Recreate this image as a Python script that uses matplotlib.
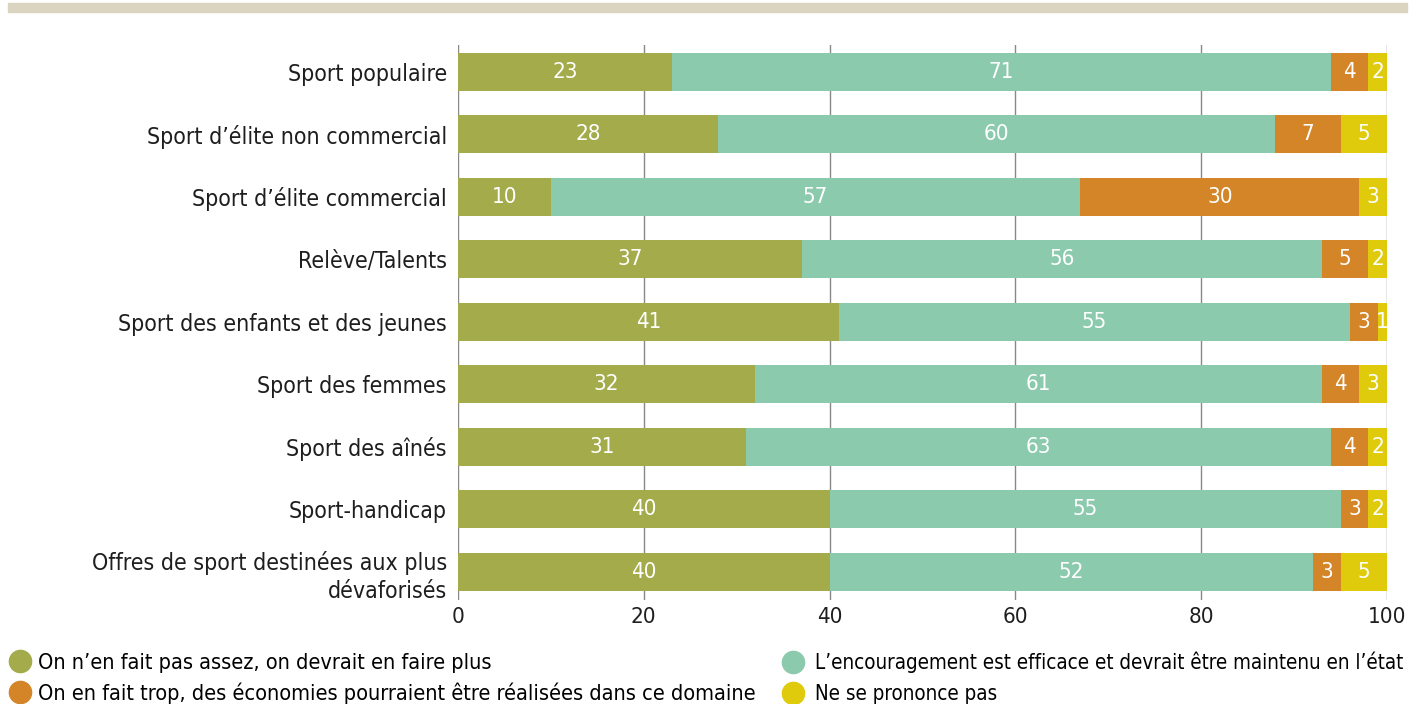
import numpy as np
import matplotlib.pyplot as plt
from matplotlib.lines import Line2D
from matplotlib.patches import Rectangle

plt.rcParams['font.family'] = ['DejaVu Sans']
plt.rcParams['font.stretch'] = 'condensed'

categories = [
    "Sport populaire",
    "Sport d\u2019élite non commercial",
    "Sport d\u2019élite commercial",
    "Relève/Talents",
    "Sport des enfants et des jeunes",
    "Sport des femmes",
    "Sport des aînés",
    "Sport-handicap",
    "Offres de sport destinées aux plus\ndévaforisés",
]
pas_assez = [23, 28, 10, 37, 41, 32, 31, 40, 40]
efficace = [71, 60, 57, 56, 55, 61, 63, 55, 52]
trop = [4, 7, 30, 5, 3, 4, 4, 3, 3]
ne_sait_pas = [2, 5, 3, 2, 1, 3, 2, 2, 5]

series_labels = [
    "On n\u2019en fait pas assez, on devrait en faire plus",
    "L\u2019encouragement est efficace et devrait être maintenu en l\u2019état",
    "On en fait trop, des économies pourraient être réalisées dans ce domaine",
    "Ne se prononce pas",
]
colors = ["#a3ab4a", "#8ccaae", "#d38527", "#dfcb0c"]

fig = plt.figure(figsize=(14.24, 7.04), dpi=100)
ax = fig.add_axes([0.3216, 0.1477, 0.6524, 0.7883])

# bandeau beige en haut
fig.patches.append(Rectangle((8 / 1424, 1 - 12 / 704), 1399 / 1424, 9 / 704,
                             transform=fig.transFigure, color="#dbd4c1", zorder=0))

y = np.arange(len(categories))
left = np.zeros(len(categories))
for vals, col in zip([pas_assez, efficace, trop, ne_sait_pas], colors):
    vals = np.array(vals, dtype=float)
    ax.barh(y, vals, left=left, height=0.61, color=col, zorder=3)
    for yi, l, v in zip(y, left, vals):
        ax.text(l + v / 2, yi, f"{int(v)}", ha="center", va="center",
                color="white", fontsize=16, zorder=4)
    left += vals

ax.set_xlim(0, 100)
ax.set_ylim(len(categories) - 1 + 0.45, -0.43)
ax.set_xticks(range(0, 101, 20))
ax.set_yticks(y)
ax.set_yticklabels(categories, fontsize=16.6, color="#1e1e1e")
for lbl in ax.get_yticklabels():
    lbl.set_multialignment("right")
    lbl.set_linespacing(1.3)
ax.tick_params(axis="y", length=0, pad=8)
ax.tick_params(axis="x", length=0, pad=5, labelsize=16, colors="#1e1e1e")
ax.grid(axis="x", color="#888888", linewidth=1, zorder=0)
for s in ax.spines.values():
    s.set_visible(False)

handles = [Line2D([], [], marker="o", linestyle="", markersize=16,
                  markerfacecolor=c, markeredgecolor=c) for c in colors]
leg = fig.legend(handles[0:1] + handles[2:3], [series_labels[0], series_labels[2]],
                 loc="lower left", bbox_to_anchor=(-0.003, -0.012), frameon=False,
                 fontsize=15.6, handletextpad=0.15, labelspacing=0.45, borderaxespad=0,
                 handlelength=1.4)
leg2 = fig.legend(handles[1:2] + handles[3:4], [series_labels[1], series_labels[3]],
                  loc="lower left", bbox_to_anchor=(0.541, -0.012), frameon=False,
                  fontsize=14.8, handletextpad=0.35, labelspacing=0.55, borderaxespad=0,
                  handlelength=1.4)

fig.savefig("out.png", dpi=100)
